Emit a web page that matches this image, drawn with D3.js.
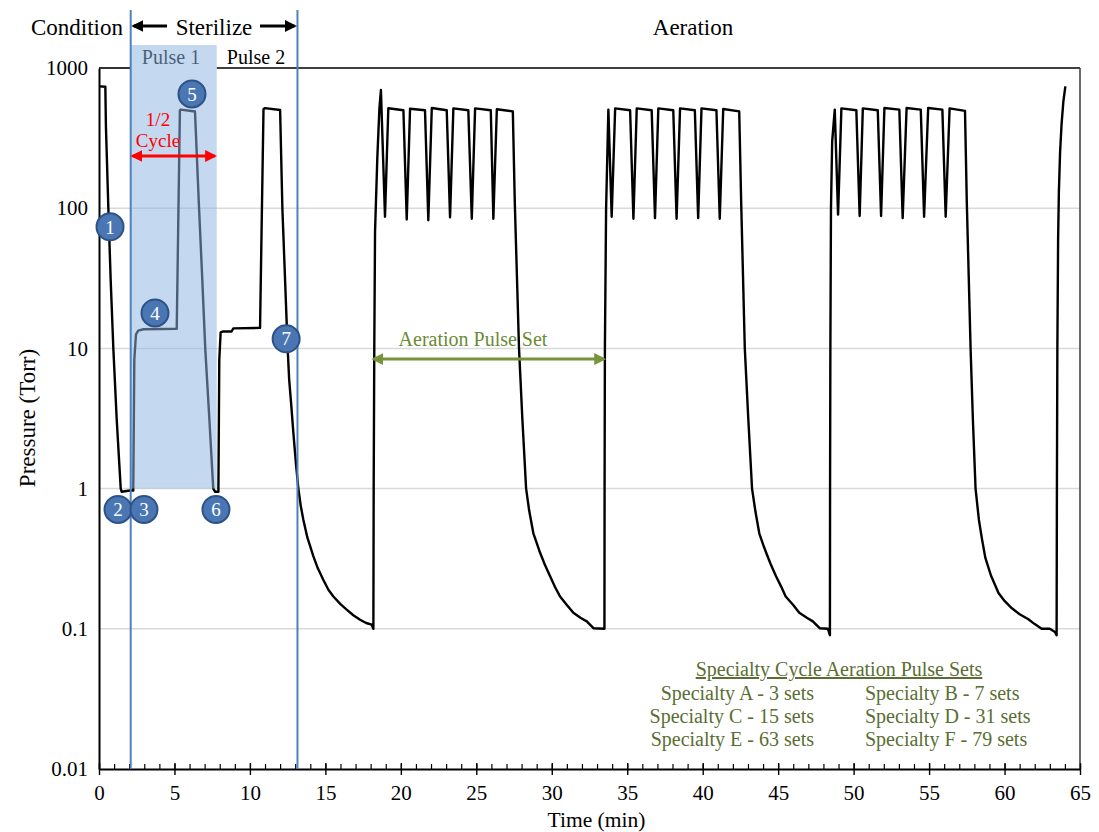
<!DOCTYPE html>
<html>
<head>
<meta charset="utf-8">
<script src="https://cdn.jsdelivr.net/npm/d3@7"></script>
<style>
  body { margin: 0; background: #fff; }
  svg { font-family: "Liberation Serif", "Times New Roman", serif; }
</style>
</head>
<body>
<svg width="1099" height="832"></svg>
<script>
// pressure trace (time in min, pressure in Torr)
const conditionTime = [0.05, 0.42, 0.46, 0.62, 0.77, 0.95, 1.17, 1.44, 1.5, 2.05, 2.27];
const conditionTorr = [740, 735, 380, 100, 31.6, 10, 3.16, 1, 0.95, 0.97, 0.97];

const pulse1Time = [2.34, 2.45, 2.6, 2.94, 5.15, 5.36, 5.42, 6.36, 6.63, 6.84, 7.04, 7.31, 7.57, 7.69, 7.91];
const pulse1Torr = [8.3, 12.6, 13.4, 13.7, 13.8, 500, 505, 489, 100, 31.6, 10, 3.16, 1, 0.95, 0.95];

const pulse2Time = [7.97, 8.06, 8.23, 8.78, 8.9, 10.67, 10.9, 11.0, 12.0, 12.15, 12.5, 12.6, 12.75, 12.88, 13.05, 13.21, 13.37, 13.54, 13.8, 14.2, 14.5, 14.86, 15.2, 15.53, 16.0, 16.41, 16.85, 17.3, 17.7, 18.07, 18.18];
const pulse2Torr = [8.3, 13, 13.2, 13.2, 13.9, 14, 510, 517, 502, 100, 10, 6, 3.8, 2.49, 1.5, 1, 0.75, 0.6, 0.45, 0.33, 0.27, 0.224, 0.19, 0.17, 0.15, 0.137, 0.125, 0.116, 0.11, 0.107, 0.1];

const aeration1Time = [18.2, 18.24, 18.29, 18.44, 18.58, 18.68, 18.95, 19.17, 20.17, 20.39, 20.61, 21.6, 21.82, 22.05, 23.04, 23.26, 23.48, 24.47, 24.7, 24.92, 25.96, 26.13, 26.36, 27.42, 27.55, 27.83, 28.05, 28.3, 28.5, 28.78, 29.0, 29.22, 29.55, 29.89, 30.2, 30.55, 31.0, 31.43, 31.9, 32.32, 32.76, 33.49];
const aeration1Torr = [1, 10, 68, 227, 516, 697, 87, 516, 500, 83, 512, 500, 82, 518, 500, 86, 515, 500, 84, 515, 500, 84, 508, 490, 110, 10, 3.16, 1, 0.7, 0.48, 0.41, 0.35, 0.285, 0.237, 0.2, 0.17, 0.148, 0.13, 0.12, 0.113, 0.101, 0.1];

const aeration2Time = [33.5, 33.52, 33.6, 33.75, 33.97, 34.2, 35.19, 35.41, 35.63, 36.62, 36.84, 37.06, 38.05, 38.27, 38.5, 39.48, 39.7, 39.92, 40.91, 41.13, 41.36, 42.42, 42.55, 42.79, 43.02, 43.27, 43.5, 43.75, 44.0, 44.2, 44.5, 44.86, 45.2, 45.5, 46.0, 46.4, 46.9, 47.3, 47.75, 48.3, 48.43];
const aeration2Torr = [1, 10, 100, 505, 87, 515, 500, 84, 515, 500, 85, 515, 500, 84, 515, 500, 85, 515, 500, 84, 510, 490, 110, 10, 3.16, 1, 0.68, 0.48, 0.4, 0.35, 0.29, 0.237, 0.2, 0.17, 0.148, 0.13, 0.12, 0.113, 0.101, 0.1, 0.09];

const aeration3Time = [48.44, 48.46, 48.5, 48.58, 48.75, 48.97, 49.19, 50.18, 50.4, 50.61, 51.6, 51.82, 52.04, 53.03, 53.25, 53.51, 54.45, 54.67, 54.94, 55.88, 56.1, 56.36, 57.38, 57.5, 57.75, 57.9, 58.08, 58.3, 58.5, 58.73, 59.1, 59.6, 60.0, 60.49, 61.0, 61.58, 62.0, 62.46, 63.0, 63.34, 63.45];
const aeration3Torr = [1, 10, 100, 300, 505, 90, 515, 500, 88, 515, 500, 88, 518, 505, 85, 518, 505, 87, 518, 505, 87, 515, 495, 110, 10, 3.16, 1, 0.6, 0.44, 0.32, 0.24, 0.18, 0.158, 0.14, 0.127, 0.117, 0.108, 0.1, 0.1, 0.095, 0.09];

const finalTime = [63.47, 63.5, 63.55, 63.6, 63.68, 63.78, 63.9, 64.03];
const finalTorr = [1, 10, 60, 130, 250, 400, 580, 740];

const xTicks = d3.range(0, 66, 5);
const yTicks = [0.01, 0.1, 1, 10, 100, 1000];
const yTickLabels = ["0.01", "0.1", "1", "10", "100", "1000"];

const phaseLines = [2.1, 13.15];          // Sterilize start / end (min)
const pulse1Span = [2.1, 7.8];             // shaded half cycle
const aerationSetSpan = [18.2, 33.45];

const markerIds = ["1", "2", "3", "4", "5", "6", "7"];
const markerTime = [0.73, 1.26, 2.98, 3.71, 6.16, 7.75, 12.4];
const markerTorr = [73.6, 0.71, 0.71, 17.9, 653, 0.71, 11.7];

const specialtyNames = ["Specialty A", "Specialty B", "Specialty C", "Specialty D", "Specialty E", "Specialty F"];
const specialtySets = [3, 7, 15, 31, 63, 79];

const svg = d3.select("svg"),
    plotL = 99, plotR = 1080, plotT = 68, plotB = 769;

const x = d3.scaleLinear().domain([0, 65]).range([plotL, plotR]);
const y = d3.scaleLog().domain([0.01, 1000]).range([plotB, plotT]);

const trace = []
    .concat(conditionTime.map((t, i) => ({t, p: conditionTorr[i]})))
    .concat(pulse1Time.map((t, i) => ({t, p: pulse1Torr[i]})))
    .concat(pulse2Time.map((t, i) => ({t, p: pulse2Torr[i]})))
    .concat(aeration1Time.map((t, i) => ({t, p: aeration1Torr[i]})))
    .concat(aeration2Time.map((t, i) => ({t, p: aeration2Torr[i]})))
    .concat(aeration3Time.map((t, i) => ({t, p: aeration3Torr[i]})))
    .concat(finalTime.map((t, i) => ({t, p: finalTorr[i]})));

// arrow heads
const defs = svg.append("defs");
[["blk", "#000"], ["red", "#ff0000"], ["grn", "#77933c"]].forEach(([id, c]) => {
    defs.append("marker")
        .attr("id", "arr-" + id)
        .attr("viewBox", "0 0 10 10")
        .attr("refX", 8).attr("refY", 5)
        .attr("markerWidth", 4).attr("markerHeight", 4)
        .attr("orient", "auto-start-reverse")
        .append("path")
        .attr("d", "M0,0 L10,5 L0,10 z")
        .attr("fill", c);
});

// gridlines
svg.append("g")
    .selectAll("line")
    .data([0.1, 1, 10, 100])
    .enter().append("line")
    .attr("x1", plotL).attr("x2", plotR)
    .attr("y1", d => y(d)).attr("y2", d => y(d))
    .attr("stroke", "#d9d9d9")
    .attr("stroke-width", 1.5);

// "Pulse" labels (pulse 1 sits under the shading)
svg.append("text")
    .attr("x", 171).attr("y", 64)
    .attr("text-anchor", "middle")
    .style("font-size", "20px")
    .text("Pulse 1");
svg.append("text")
    .attr("x", 256).attr("y", 64)
    .attr("text-anchor", "middle")
    .style("font-size", "20px")
    .text("Pulse 2");

const line = d3.line()
    .x(d => x(d.t))
    .y(d => y(d.p));

svg.append("path")
    .datum(trace)
    .attr("d", line)
    .attr("fill", "none")
    .attr("stroke", "#000")
    .attr("stroke-width", 2.4)
    .attr("stroke-linejoin", "round");

// frame
const frame = svg.append("g").attr("stroke-width", 1.6);
frame.append("line").attr("x1", plotL).attr("x2", x(pulse1Span[0])).attr("y1", plotT).attr("y2", plotT).attr("stroke", "#000");
frame.append("line").attr("x1", x(pulse1Span[1])).attr("x2", plotR).attr("y1", plotT).attr("y2", plotT).attr("stroke", "#000");
frame.append("line").attr("x1", plotR).attr("x2", plotR).attr("y1", plotT).attr("y2", plotB).attr("stroke", "#444");

// shaded half cycle
svg.append("rect")
    .attr("x", x(pulse1Span[0]))
    .attr("y", plotT - 23)
    .attr("width", x(pulse1Span[1]) - x(pulse1Span[0]))
    .attr("height", y(1) - plotT + 23)
    .attr("fill", "#8eb4e3")
    .attr("opacity", 0.52);

// x axis: major ticks cross the line, minor ticks inside
svg.append("g")
    .attr("transform", `translate(0,${plotB})`)
    .call(d3.axisBottom(x).tickValues(d3.range(0, 66, 1)).tickSize(-5).tickFormat(""))
    .call(g => g.select(".domain").remove())
    .selectAll("line").attr("stroke", "#000").attr("stroke-width", 1.2);

const xAxis = svg.append("g")
    .attr("transform", `translate(0,${plotB})`)
    .call(d3.axisBottom(x).tickValues(xTicks).tickSize(6).tickPadding(10).tickSizeOuter(0));
xAxis.select(".domain").attr("stroke", "#000").attr("stroke-width", 2);
xAxis.selectAll(".tick line").attr("y1", -6).attr("stroke-width", 1.4);
xAxis.selectAll("text")
    .attr("fill", "#000")
    .style("font-family", "'Liberation Serif', serif")
    .style("font-size", "21px");

const yAxis = svg.append("g")
    .attr("transform", `translate(${plotL},0)`)
    .call(d3.axisLeft(y).tickValues(yTicks).tickSize(0).tickPadding(11).tickSizeOuter(0)
        .tickFormat((d, i) => yTickLabels[i]));
yAxis.select(".domain").attr("stroke", "#000").attr("stroke-width", 2);
yAxis.selectAll("text")
    .attr("fill", "#000")
    .style("font-family", "'Liberation Serif', serif")
    .style("font-size", "21px");

svg.append("text")
    .attr("x", (plotL + plotR) / 2 + 7).attr("y", 827)
    .attr("text-anchor", "middle")
    .style("font-size", "21.5px")
    .text("Time (min)");

svg.append("text")
    .attr("transform", "translate(35,418) rotate(-90)")
    .attr("text-anchor", "middle")
    .style("font-size", "23px")
    .text("Pressure (Torr)");

// phase boundaries
svg.append("g")
    .selectAll("line")
    .data(phaseLines)
    .enter().append("line")
    .attr("x1", d => x(d)).attr("x2", d => x(d))
    .attr("y1", 10).attr("y2", plotB)
    .attr("stroke", "#4f81bd")
    .attr("stroke-width", 2);

// phase titles
const titles = svg.append("g").style("font-size", "23px").attr("text-anchor", "middle");
titles.append("text").attr("x", 77).attr("y", 35).text("Condition");
titles.append("text").attr("x", 214).attr("y", 35).text("Sterilize");
titles.append("text").attr("x", 693).attr("y", 35).text("Aeration");

svg.append("line")
    .attr("x1", 167).attr("x2", x(phaseLines[0]) + 3)
    .attr("y1", 26).attr("y2", 26)
    .attr("stroke", "#000").attr("stroke-width", 3)
    .attr("marker-end", "url(#arr-blk)");
svg.append("line")
    .attr("x1", 260).attr("x2", x(phaseLines[1]) - 3)
    .attr("y1", 26).attr("y2", 26)
    .attr("stroke", "#000").attr("stroke-width", 3)
    .attr("marker-end", "url(#arr-blk)");

// 1/2 cycle
svg.append("line")
    .attr("x1", x(pulse1Span[0]) + 2).attr("x2", x(pulse1Span[1]) - 2)
    .attr("y1", 156).attr("y2", 156)
    .attr("stroke", "#ff0000").attr("stroke-width", 3)
    .attr("marker-start", "url(#arr-red)")
    .attr("marker-end", "url(#arr-red)");
const half = svg.append("g").attr("fill", "#ff0000").attr("text-anchor", "middle").style("font-size", "19px");
half.append("text").attr("x", 158).attr("y", 126).text("1/2");
half.append("text").attr("x", 158).attr("y", 147).text("Cycle");

// aeration pulse set
svg.append("line")
    .attr("x1", x(aerationSetSpan[0])).attr("x2", x(aerationSetSpan[1]))
    .attr("y1", y(8.4)).attr("y2", y(8.4))
    .attr("stroke", "#77933c").attr("stroke-width", 3)
    .attr("marker-start", "url(#arr-grn)")
    .attr("marker-end", "url(#arr-grn)");
svg.append("text")
    .attr("x", 473).attr("y", 346)
    .attr("text-anchor", "middle")
    .attr("fill", "#6b8a35")
    .style("font-size", "20px")
    .text("Aeration Pulse Set");

// numbered markers
const marks = svg.append("g")
    .selectAll("g")
    .data(markerIds)
    .enter().append("g")
    .attr("transform", (d, i) => `translate(${x(markerTime[i])},${y(markerTorr[i])})`);
marks.append("circle")
    .attr("r", 13.5)
    .attr("fill", "#4a76b4")
    .attr("stroke", "#2c5286")
    .attr("stroke-width", 2);
marks.append("text")
    .attr("text-anchor", "middle")
    .attr("dy", "0.35em")
    .attr("fill", "#fff")
    .style("font-size", "19px")
    .text(d => d);

// specialty table
const spec = svg.append("g").attr("fill", "#5a6e32").style("font-size", "20px");
spec.append("text")
    .attr("x", 839).attr("y", 676)
    .attr("text-anchor", "middle")
    .style("text-decoration", "underline")
    .text("Specialty Cycle Aeration Pulse Sets");
spec.selectAll(".row")
    .data(specialtyNames)
    .enter().append("text")
    .attr("class", "row")
    .attr("x", (d, i) => i % 2 ? 865 : 814)
    .attr("y", (d, i) => 700 + Math.floor(i / 2) * 23)
    .attr("text-anchor", (d, i) => i % 2 ? "start" : "end")
    .text((d, i) => `${d} - ${specialtySets[i]} sets`);
</script>
</body>
</html>
